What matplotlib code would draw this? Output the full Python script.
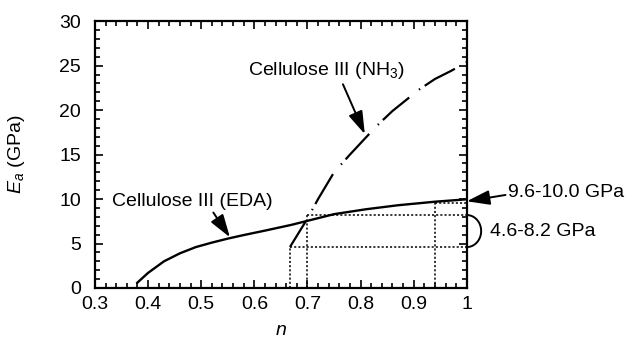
import numpy as np
import matplotlib
matplotlib.use("Agg")
import matplotlib.pyplot as plt
from matplotlib.ticker import MultipleLocator

plt.rcParams['font.family'] = ['Liberation Sans', 'DejaVu Sans']
plt.rcParams['mathtext.fontset'] = 'custom'
plt.rcParams['mathtext.rm'] = 'Liberation Sans'
plt.rcParams['mathtext.it'] = 'Liberation Sans:italic'
plt.rcParams['lines.scale_dashes'] = False

# Cellulose III (EDA) curve
eda_n = [0.378, 0.40, 0.43, 0.46, 0.49, 0.52, 0.55, 0.58, 0.62, 0.67, 0.70, 0.75, 0.81, 0.87, 0.94, 1.00]
eda_E = [0.5, 1.7, 3.0, 3.9, 4.6, 5.1, 5.55, 5.95, 6.45, 7.1, 7.55, 8.3, 8.85, 9.3, 9.7, 9.97]

# Cellulose III (NH3) curve
nh3_n = [0.667, 0.70, 0.72, 0.75, 0.78, 0.83, 0.86, 0.91, 0.94, 0.97, 1.00]
nh3_E = [4.6, 7.8, 10.0, 13.0, 15.0, 18.2, 19.9, 22.3, 23.5, 24.4, 25.4]

# Dotted guide lines: (n at which line starts, E level)
guide_n = [0.667, 0.70, 0.94]
guide_E = [4.6, 8.2, 9.6]

fig = plt.figure(figsize=(6.27, 3.42), dpi=100)
ax = fig.add_axes([0.1515, 0.158, 0.593, 0.780])

ax.plot(eda_n, eda_E, color='black', lw=1.7, solid_capstyle='butt')
ax.plot(nh3_n, nh3_E, color='black', lw=1.6, linestyle=(3, (25, 9, 1, 4)))

for gn, gE in zip(guide_n, guide_E):
    ax.plot([gn, gn], [0, gE], color='black', lw=1.1, linestyle=(0, (1.5, 1.5)))
    ax.plot([gn, 1.0], [gE, gE], color='black', lw=1.1, linestyle=(0, (1.5, 1.5)))

# Bracket (half ellipse) for 4.6-8.2 GPa
t = np.linspace(-np.pi / 2, np.pi / 2, 60)
cE = (guide_E[0] + guide_E[1]) / 2
hE = (guide_E[1] - guide_E[0]) / 2
ax.plot(1.0 + 0.027 * np.cos(t), cE + hE * np.sin(t), color='black', lw=1.4, clip_on=False)

fs = 14
arrow = dict(arrowstyle='-|>,head_length=1.0,head_width=0.32', color='black', lw=1.4,
             shrinkA=0, shrinkB=0)
ax.annotate('Cellulose III (EDA)', xy=(0.554, 5.7), xytext=(0.483, 9.75),
            ha='center', va='center', fontsize=fs, arrowprops=dict(arrow, relpos=(0.62, 0.0)))
ax.annotate('Cellulose III (NH$_3$)', xy=(0.808, 17.3), xytext=(0.735, 24.4),
            ha='center', va='center', fontsize=fs, arrowprops=dict(arrow, relpos=(0.6, 0.0)))
ax.annotate('9.6-10.0 GPa', xy=(1.0, 9.75), xytext=(1.078, 10.7),
            ha='left', va='center', fontsize=fs, annotation_clip=False,
            arrowprops=dict(arrow, relpos=(0.0, 0.4)))
ax.text(1.044, 6.3, '4.6-8.2 GPa', ha='left', va='center', fontsize=fs)

ax.set_xlim(0.3, 1.0)
ax.set_ylim(0, 30)
ax.xaxis.set_major_locator(MultipleLocator(0.1))
ax.xaxis.set_minor_locator(MultipleLocator(0.02))
ax.yaxis.set_major_locator(MultipleLocator(5))
ax.yaxis.set_minor_locator(MultipleLocator(1))
ax.set_xticks([0.3, 0.4, 0.5, 0.6, 0.7, 0.8, 0.9, 1.0])
ax.set_xticklabels(['0.3', '0.4', '0.5', '0.6', '0.7', '0.8', '0.9', '1'])
ax.tick_params(which='both', direction='in', top=True, right=True, width=1.2, labelsize=14)
ax.tick_params(which='major', length=6)
ax.tick_params(which='minor', length=3.5)
ax.tick_params(axis='x', which='major', pad=6)
ax.tick_params(axis='y', which='major', pad=10)
for s in ax.spines.values():
    s.set_linewidth(1.6)

ax.set_xlabel('$n$', fontsize=14, labelpad=6)
ax.set_ylabel('$E_a$ (GPa)', fontsize=14, labelpad=23)

fig.savefig('out.png', dpi=100)
